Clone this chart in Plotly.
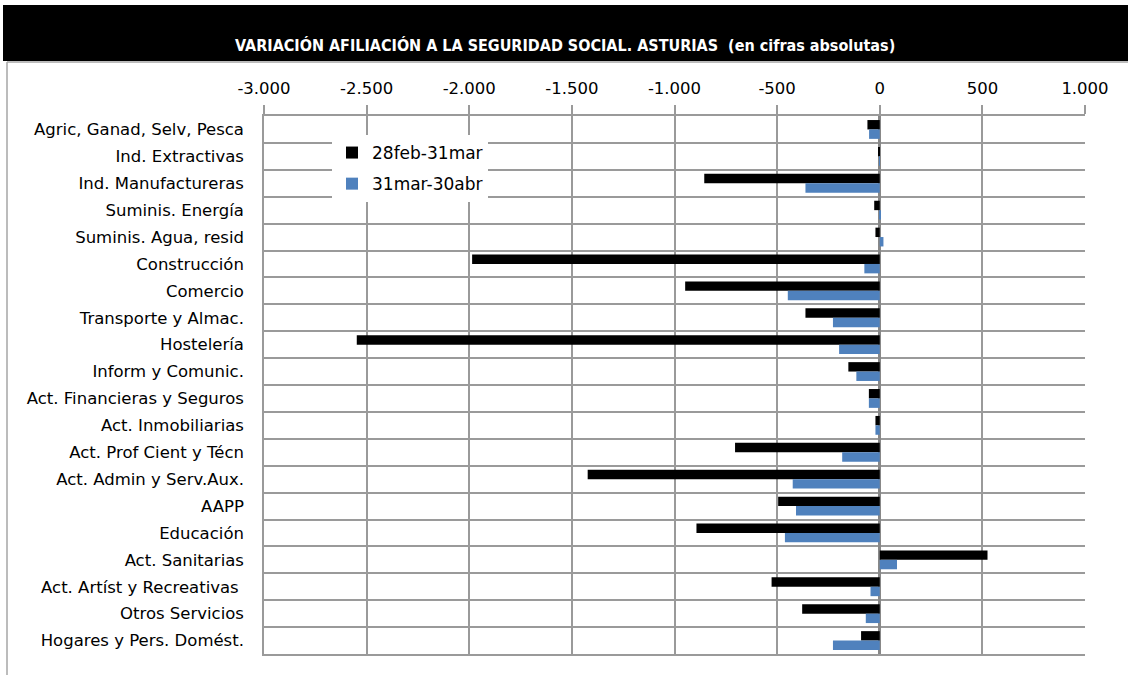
import plotly.graph_objects as go

categories = [
    "Agric, Ganad, Selv, Pesca", "Ind. Extractivas", "Ind. Manufactureras",
    "Suminis. Energía", "Suminis. Agua, resid", "Construcción", "Comercio",
    "Transporte y Almac.", "Hostelería", "Inform y Comunic.",
    "Act. Financieras y Seguros", "Act. Inmobiliarias", "Act. Prof Cient y Técn",
    "Act. Admin y Serv.Aux.", "AAPP", "Educación", "Act. Sanitarias",
    "Act. Artíst y Recreativas ", "Otros Servicios", "Hogares y Pers. Domést.",
]
feb_mar = [-60, -5, -855, -27, -21, -1986, -948, -362, -2548, -153,
           -53, -21, -705, -1423, -495, -893, 525, -527, -378, -91]
mar_abr = [-52, -2, -362, 2, 18, -75, -448, -228, -198, -114,
           -53, -21, -183, -424, -408, -462, 84, -45, -68, -228]
series_names = ["28feb-31mar", "31mar-30abr"]
tick_vals = [-3000, -2500, -2000, -1500, -1000, -500, 0, 500, 1000]
tick_labels = ["-3.000", "-2.500", "-2.000", "-1.500", "-1.000", "-500", "0", "500", "1.000"]
title_text = "VARIACIÓN AFILIACIÓN A LA SEGURIDAD SOCIAL. ASTURIAS  (en cifras absolutas)"

W, H = 1128, 675
L, R, T, B = 264, 43, 116, 21
PW, PH = W - L - R, H - T - B

def px(xp):
    return (xp - L) / PW

def py(yp):
    return (H - B - yp) / PH

font_family = "DejaVu Sans"
grid_col = "#9a9a9a"

fig = go.Figure()
fig.add_trace(go.Bar(y=categories, x=feb_mar, orientation="h", name=series_names[0],
                     marker=dict(color="#000000", line=dict(width=0)), legendgroup="a"))
fig.add_trace(go.Bar(y=categories, x=mar_abr, orientation="h", name=series_names[1],
                     marker=dict(color="#4F81BD", line=dict(width=0)), legendgroup="b"))

fig.update_layout(
    width=W, height=H,
    margin=dict(l=L, r=R, t=T, b=B, pad=0),
    paper_bgcolor="white", plot_bgcolor="white",
    barmode="group", bargap=0.3, bargroupgap=0,
    font=dict(family=font_family, size=16, color="#000000"),
    legend=dict(x=px(332), y=py(135), xanchor="left", yanchor="top",
                bgcolor="white", borderwidth=0, tracegroupgap=6,
                font=dict(family=font_family, size=17, color="#000000"),
                itemwidth=30),
    xaxis=dict(side="top", range=[-3000, 1000], tickvals=tick_vals, ticktext=tick_labels,
               showgrid=True, gridcolor=grid_col, gridwidth=1.5,
               zeroline=True, zerolinecolor="#888888", zerolinewidth=2.5,
               ticks="outside", ticklen=9, tickcolor=grid_col, tickwidth=1.5,
               showline=True, linecolor=grid_col, linewidth=1.5, mirror=True,
               tickfont=dict(family=font_family, size=16.5), ticklabelstandoff=5,
               fixedrange=True),
    yaxis=dict(type="category", autorange="reversed", tickson="boundaries",
               showgrid=True, gridcolor=grid_col, gridwidth=1.5,
               ticks="", showline=True, linecolor=grid_col, linewidth=1.5,
               tickfont=dict(family=font_family, size=16.5), ticklabelstandoff=15,
               fixedrange=True),
    showlegend=True,
)

fig.add_shape(type="rect", xref="paper", yref="paper",
              x0=px(3), x1=px(1128), y0=py(61), y1=py(5),
              fillcolor="#000000", line=dict(width=0), layer="above")
fig.add_shape(type="line", xref="paper", yref="paper",
              x0=px(7), x1=px(7), y0=py(62), y1=py(675),
              line=dict(color="#a6a6a6", width=1.5))
fig.add_shape(type="line", xref="paper", yref="paper",
              x0=px(7), x1=px(1128), y0=py(62), y1=py(62),
              line=dict(color="#a6a6a6", width=1.5))
fig.add_annotation(text="<b>" + title_text + "</b>", xref="paper", yref="paper",
                   x=px(565), y=py(46), xanchor="center", yanchor="middle",
                   showarrow=False,
                   font=dict(family="DejaVu Sans Condensed", size=16, color="white"))

fig.write_html("out.html", config={"displayModeBar": False},
               post_script="document.body.style.margin='0';document.body.style.overflow='hidden';")
